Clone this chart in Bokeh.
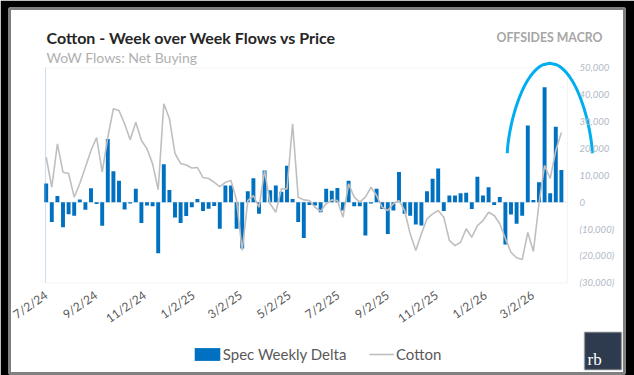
import numpy as np
import pandas as pd
from bokeh.plotting import figure
from bokeh.models import (Range1d, FixedTicker, NumeralTickFormatter, CustomJSTickFormatter,
                          Label, BoxAnnotation, ColumnDataSource, Legend, LegendItem)
from bokeh.embed import file_html
from bokeh.resources import INLINE

# Weekly (Tuesday) COT speculative net position change, contracts
first_week = "2024-07-02"
spec_weekly_delta = [
    7000, -7400, 2300, -9300, -4500, -5000, 1000, -2800, 5200, -700,
    -8800, 23500, 11500, 8000, -2700, -500, 5000, -7700, -1200, -1500,
    -19000, 14100, 4500, -5700, -7700, -5100, -1900, 1200, -3300, -2400,
    -1400, -9900, 6200, 6200, -9900, -17200, 4100, 8900, -4300, 11800,
    4400, 6200, 3900, 13600, 1200, -7400, -13300, -1000, -1200, -3700,
    5000, 4300, 5300, -3100, 8000, -1500, -1500, -12400, -500, 5000,
    -2500, -11800, -3100, 11200, -4300, -5000, -8300, -8700, 4100, 8700,
    12500, -3300, 2500, 2500, 3300, 3500, -2500, 9500, 2500, 5600,
    -1000, 1900, -15700, -4600, -8000, -5000, 28500, 800, 7400, 42800,
    3300, 28100, 12000,
]

# Cotton futures, cents/lb (secondary scale)
cotton_price = [
    69.32, 67.09, 70.32, 68.21, 68.11, 66.35, 67.37, 68.58, 69.82, 70.79,
    68.21, 70.81, 72.93, 72.80, 71.81, 70.62, 71.93, 70.57, 69.95, 68.83,
    66.90, 73.30, 72.20, 69.60, 68.86, 68.74, 68.52, 68.56, 67.81, 67.74,
    67.46, 67.14, 67.46, 67.59, 66.10, 62.38, 66.10, 66.47, 65.60, 68.33,
    65.86, 65.23, 66.97, 66.97, 71.81, 66.35, 66.15, 66.10, 65.60, 65.31,
    65.86, 66.15, 66.10, 64.86, 67.35, 66.35, 65.98, 66.35, 67.09, 66.47,
    65.60, 65.36, 65.86, 66.10, 65.36, 63.62, 62.38, 63.62, 64.74, 65.11,
    65.36, 64.86, 63.13, 62.75, 63.00, 64.00, 63.37, 64.24, 64.61, 65.23,
    64.99, 64.37, 63.27, 62.25, 61.84, 61.71, 63.72, 62.31, 65.88, 68.71,
    67.74, 69.82, 71.16,
]

tick_dates = ["2024-07-02", "2024-09-02", "2024-11-02", "2025-01-02", "2025-03-02",
              "2025-05-02", "2025-07-02", "2025-09-02", "2025-11-02", "2026-01-02",
              "2026-03-02"]
flow_ticks = [-30000, -20000, -10000, 0, 10000, 20000, 30000, 40000, 50000]

weeks = pd.date_range(first_week, periods=len(spec_weekly_delta), freq="7D")
src = ColumnDataSource(dict(week=weeks, delta=spec_weekly_delta, price=cotton_price))

WEEK = pd.Timedelta(days=7)
WEEK_MS = 7 * 24 * 3600 * 1000
FONT = "Lato"

# The frame is the whole white card; the chart box sits inside it.
box_left = weeks[0] - 0.125 * WEEK
box_right = weeks[0] + 93.09 * WEEK
x_start = weeks[0] - 6.554 * WEEK
x_end = weeks[0] + 103.27 * WEEK

p = figure(width=634, height=375, x_axis_type="datetime", y_axis_location="right",
           x_range=Range1d(x_start, x_end), y_range=Range1d(-63740, 72074),
           output_backend="svg", toolbar_location=None, title="",
           min_border_left=9, min_border_right=10, min_border_top=8, min_border_bottom=2)
p.extra_y_ranges = {"price": Range1d(53.23, 80.39)}
p.border_fill_color = "black"
p.background_fill_color = "white"
p.outline_line_color = "#808080"
p.outline_line_width = 3
p.xgrid.visible = False
p.ygrid.visible = False

# chart box, zero baseline and left rule
p.add_layout(BoxAnnotation(left=box_left, right=box_right, top=50000, bottom=-30000,
                           fill_color=None, line_color="#d9d9d9", line_width=1, level="underlay"))
p.add_layout(BoxAnnotation(left=box_left, right=box_right, top=0, bottom=0,
                           fill_color=None, line_color="#d9d9d9", line_width=1, level="underlay"))

bars = p.vbar(x="week", top="delta", width=0.7 * WEEK_MS, source=src,
              fill_color="#0070c0", line_color=None)
price_line = p.line(x="week", y="price", source=src, y_range_name="price",
                    line_color="#bfbfbf", line_width=1.6)

p.add_layout(BoxAnnotation(left=box_left, right=box_left, top=50000, bottom=-30000,
                           fill_color=None, line_color="#8db3d9", line_width=1.2))

# highlight arch over the latest buying
arc_center = (weeks[-1] - 2.07 * WEEK).value / 1e6
arc_half_width = 7.59 * WEEK_MS
t = np.linspace(0, 1, 60)
half = arc_half_width * np.sqrt(1 - t ** 1.5)
rise = 18200 + (51700 - 18200) * t
arc_x = np.concatenate([arc_center - half, (arc_center + half)[::-1]])
arc_y = np.concatenate([rise, rise[::-1]])
p.line(arc_x, arc_y, line_color="#00aeef", line_width=3, line_cap="butt")

# x axis: labels pulled up under the chart box
xa = p.xaxis[0]
xa.ticker = FixedTicker(ticks=[pd.Timestamp(d).value / 1e6 for d in tick_dates], minor_ticks=[])
xa.formatter = CustomJSTickFormatter(code="""
const d = new Date(tick);
return (d.getUTCMonth() + 1) + "/" + d.getUTCDate() + "/" + String(d.getUTCFullYear()).slice(2);
""")
xa.major_label_orientation = 0.61
xa.major_label_text_font = FONT
xa.major_label_text_font_size = "12px"
xa.major_label_text_color = "#595959"
xa.major_label_standoff = -86
xa.axis_line_color = None
xa.major_tick_line_color = None
xa.minor_tick_line_color = None

# right axis: flows, labels pulled left beside the chart box
ya = p.yaxis[0]
ya.ticker = FixedTicker(ticks=flow_ticks, minor_ticks=[])
ya.formatter = NumeralTickFormatter(format="(0,0)")
ya.major_label_text_font = FONT
ya.major_label_text_font_size = "9.5px"
ya.major_label_text_font_style = "italic"
ya.major_label_text_color = "#b0b9c7"
ya.major_label_standoff = -51
ya.axis_line_color = None
ya.major_tick_line_color = None
ya.minor_tick_line_color = None

# legend
legend_common = dict(orientation="horizontal", padding=0, margin=0, spacing=0,
                     border_line_alpha=0, background_fill_alpha=0, label_height=16,
                     glyph_height=16, label_text_font=FONT, label_text_font_size="15px",
                     label_text_color="#595959")
p.add_layout(Legend(items=[LegendItem(label="Spec Weekly Delta", renderers=[bars])],
                    location=(181.8, 10.2), glyph_width=32, label_standoff=0, **legend_common))
p.add_layout(Legend(items=[LegendItem(label="Cotton", renderers=[price_line])],
                    location=(360, 10.2), glyph_width=25, label_standoff=2, **legend_common))

# headings (offsets from the card's lower-left corner)
def card_label(x, y, text, **kw):
    p.add_layout(Label(x=x, y=y, x_units="screen", y_units="screen", text=text,
                       text_baseline="alphabetic", **kw))

card_label(37, 336.3, "Cotton - Week over Week Flows vs Price", text_font=FONT,
           text_font_size="16px", text_font_style="bold", text_color="#262626")
card_label(37, 316.3, "WoW Flows: Net Buying", text_font=FONT,
           text_font_size="14px", text_color="#b0b0b0")
card_label(593, 336, "OFFSIDES MACRO", text_font=FONT, text_font_size="12.3px",
           text_font_style="bold", text_color="#a6a6a6", text_align="right")

# badge
p.add_layout(BoxAnnotation(left=575, right=612, top=41.3, bottom=3.7,
                           left_units="screen", right_units="screen",
                           top_units="screen", bottom_units="screen",
                           fill_color="#2e3b4e", fill_alpha=1, line_color="#8c8c8c",
                           line_width=2, level="overlay"))
card_label(578, 14.5, "rb", text_font="Liberation Serif", text_font_size="17px",
           text_color="white", level="overlay")

open("out.html", "w").write(file_html(p, INLINE))
